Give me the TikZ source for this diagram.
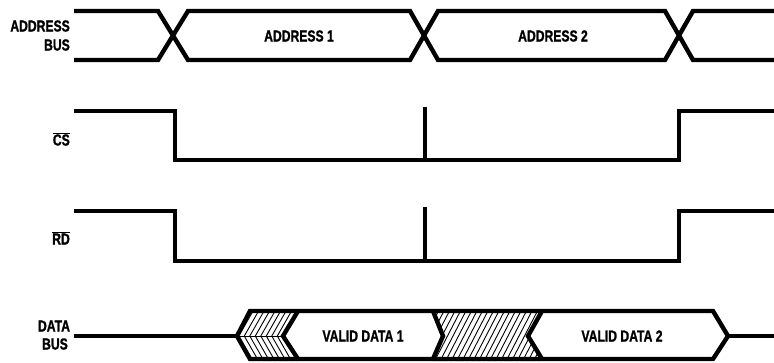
\documentclass[tikz,border=0pt]{standalone}
\usepackage{fontspec}
\setmainfont{Liberation Sans Bold}[FakeStretch=0.76,FakeBold=1.2]
\begin{document}
\begin{tikzpicture}[x=1pt,y=-1pt,
  sig/.style={line width=4.4pt,line join=miter},
  tick/.style={line width=4.2pt},
  hatch/.style={line width=0.9pt},
  lbl/.style={font=\fontsize{16}{16}\selectfont,inner sep=0pt},
  sidelbl/.style={lbl,anchor=east,align=right}]
\useasboundingbox (0,0) rectangle (774,362);
% labels
\node[sidelbl] (laddr) at (70,26) {ADDRESS};
\node[sidelbl] (lbus1) at (70,45) {BUS};
\node[sidelbl] (lcs) at (70,139) {$\overline{\hbox{CS}}$};
\node[sidelbl] (lrd) at (70,238) {$\overline{\hbox{RD}}$};
\node[lbl] (ldata) at (54,326) {DATA};
\node[lbl] (lbus2) at (55,344) {BUS};
% address bus
\draw[sig] (74,11) -- (158,11) -- (188,60) -- (410,60) -- (438,11) -- (665,11) -- (693,60) -- (774,60);
\draw[sig] (74,60) -- (158,60) -- (188,11) -- (410,11) -- (438,60) -- (665,60) -- (693,11) -- (774,11);
\node[lbl] (a1) at (299,36) {ADDRESS 1};
\node[lbl] (a2) at (553,36) {ADDRESS 2};
% CS
\draw[sig] (74,111) -- (175,111) -- (175,160) -- (679,160) -- (679,111) -- (774,111);
\draw[tick] (425,107) -- (425,160);
% RD
\draw[sig] (74,211) -- (175,211) -- (175,261) -- (679,261) -- (679,211) -- (774,211);
\draw[tick] (425,207) -- (425,261);
% data bus hatching
\begin{scope}
\clip (237,336) -- (250,311) -- (298,311) -- (283,336) -- cycle;
\foreach \i in {0,...,14} {\draw[hatch] (220+5.5*\i,340) -- (240+5.5*\i,305);}
\end{scope}
\begin{scope}
\clip (237,336) -- (250,361) -- (298,361) -- (283,336) -- cycle;
\foreach \i in {0,...,14} {\draw[hatch] (220+5.5*\i,332) -- (240+5.5*\i,367);}
\end{scope}
\begin{scope}
\clip (433,311) -- (443,336) -- (433,361) -- (542,361) -- (528,336) -- (542,311) -- cycle;
\foreach \i in {0,...,26} {\draw[hatch] (405+5.5*\i,365) -- (435+5.5*\i,307);}
\end{scope}
\draw[hatch] (237,336) -- (283,336);
% data bus outline
\coordinate (dl) at (237,336);
\draw[sig] (74,336) -- (dl);
\draw[sig] (dl) -- (250,311) -- (713,311) -- (728,336) -- (713,359) -- (250,359) -- cycle;
\draw[sig] (728,336) -- (774,336);
\draw[sig] (298,311) -- (283,336) -- (298,359);
\draw[sig] (433,311) -- (443,336) -- (433,359);
\draw[sig] (542,311) -- (528,336) -- (542,359);
\node[lbl] (d1) at (363,336) {VALID DATA 1};
\node[lbl] (d2) at (622,336) {VALID DATA 2};
\end{tikzpicture}
\end{document}
